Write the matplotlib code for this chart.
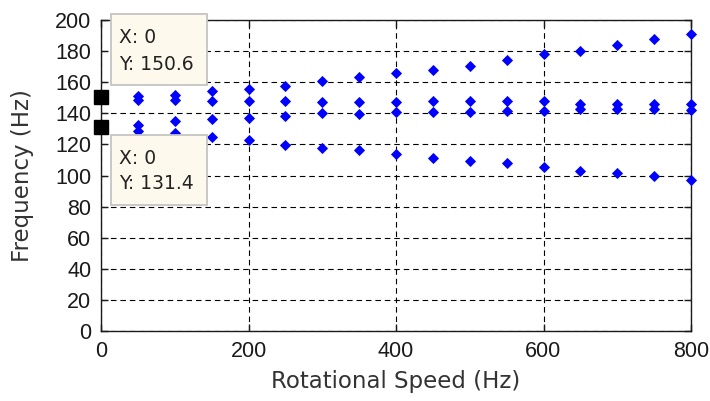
import matplotlib
matplotlib.use("Agg")
import matplotlib.pyplot as plt
import matplotlib.transforms as mtransforms
from matplotlib.patches import Rectangle

# ---- data ----
speed = [0, 50, 100, 150, 200, 250, 300, 350, 400, 450, 500, 550, 600, 650, 700, 750, 800]
mode_a = [150.6, 151.2, 152.0, 154.5, 155.8, 157.3, 160.6, 163.2, 165.6, 167.7, 170.5, 174.0, 177.9, 180.1, 184.0, 187.7, 191.3]
mode_b = [150.6, 148.4, 148.7, 148.0, 147.6, 148.2, 147.1, 147.1, 147.1, 147.6, 147.6, 147.6, 147.6, 145.8, 145.8, 145.8, 146.1]
mode_c = [131.4, 132.5, 135.3, 136.4, 137.2, 138.3, 140.0, 139.6, 141.1, 141.1, 141.1, 141.6, 141.6, 142.6, 142.9, 142.9, 142.2]
mode_d = [131.4, 128.6, 127.5, 124.9, 122.7, 119.9, 117.7, 116.2, 114.0, 111.4, 109.1, 108.0, 105.4, 103.0, 101.7, 99.5, 96.8]
tips = [(0, 150.6), (0, 131.4)]
xticks = [0, 200, 400, 600, 800]
yticks = list(range(0, 201, 20))

plt.rcParams['font.family'] = ['Liberation Sans', 'DejaVu Sans']

fig = plt.figure(figsize=(7.10, 4.01), dpi=100)
ax = fig.add_axes([101 / 710, 1 - 331 / 401, 590 / 710, 311 / 401])

for s in (mode_a, mode_b, mode_c, mode_d):
    ax.plot(speed[1:], s[1:], linestyle='none', marker='D', markersize=5.4,
            color='#0000FF', markeredgewidth=0.6, clip_on=False, zorder=4)

ax.set_xlim(0, 800)
ax.set_ylim(0, 200)
ax.set_xticks(xticks)
ax.set_yticks(yticks)
ax.grid(True, color='black', linewidth=0.8, linestyle=(0, (5, 3.5)))
ax.set_axisbelow(True)
for sp in ax.spines.values():
    sp.set_linewidth(1.0)
    sp.set_color('#1a1a1a')
ax.tick_params(direction='in', length=5, width=1.0, top=True, right=True,
               labelsize=15.5, pad=7, colors='#1a1a1a')
ax.set_xlabel('Rotational Speed (Hz)', fontsize=16.5, family='DejaVu Sans',
              color='#333333', labelpad=6)
ax.set_ylabel('Frequency (Hz)', fontsize=16.5, family='DejaVu Sans',
              color='#333333', labelpad=15)

# datatips
specs = [
    (tips[0], (10, 11.5, 96, 71), (18, 53.5), (18, 26.5)),
    (tips[1], (10, -78.5, 96, 70), (18, -37.5), (18, -62.5)),
]
for (tx, ty), (bx, by, bw, bh), p1, p2 in specs:
    tr = mtransforms.IdentityTransform() + mtransforms.ScaledTranslation(tx, ty, ax.transData)
    ax.add_patch(Rectangle((bx, by), bw, bh, transform=tr, facecolor='#FDF9EC',
                           edgecolor='#C4C4C4', linewidth=1.3, clip_on=False, zorder=6))
    ax.text(p1[0], p1[1], 'X: %g' % tx, transform=tr, fontsize=13.5, family='DejaVu Sans',
            color='#222222', ha='left', va='baseline', zorder=7, clip_on=False)
    ax.text(p2[0], p2[1], 'Y: %.1f' % ty, transform=tr, fontsize=13.5, family='DejaVu Sans',
            color='#222222', ha='left', va='baseline', zorder=7, clip_on=False)
    ax.plot([tx], [ty], marker='s', markersize=10.5, color='black', linestyle='none',
            clip_on=False, zorder=8)

fig.savefig('out.png', dpi=100)
